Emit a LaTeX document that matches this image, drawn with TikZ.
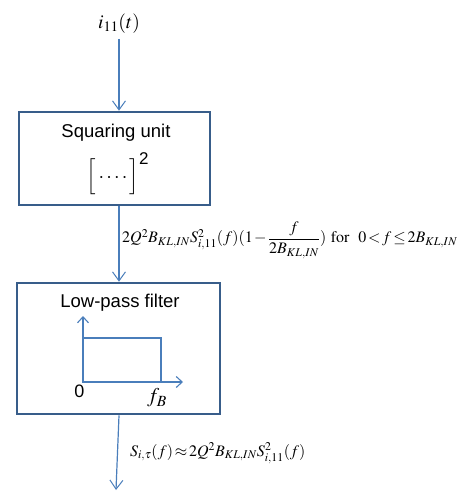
\documentclass[tikz,border=0pt]{standalone}
\usepackage{amsmath}
\usepackage{mathptmx}
\usepackage[no-math]{fontspec}
\setmainfont{Liberation Sans}
\usetikzlibrary{arrows.meta,positioning}
\definecolor{boxline}{RGB}{56,93,138}
\definecolor{flow}{RGB}{74,126,187}
\newcommand{\tightmath}{\thickmuskip=2mu\relax\medmuskip=1.5mu\relax}

\begin{document}
\begin{tikzpicture}[x=1pt, y=-1pt,
    block/.style={draw=boxline, line width=2.6pt, inner sep=0pt},
    flowline/.style={draw=flow, line width=1.2pt, -{Straight Barb[length=9pt, width=13pt, line width=1pt]}},
    axisline/.style={draw=flow, line width=1.1pt, -{Straight Barb[length=6pt, width=11pt, line width=1.1pt]}},
    caption/.style={font=\fontsize{18.5}{20}\selectfont, text=black},
    formula/.style={font=\fontsize{16}{18}\selectfont, anchor=west, inner sep=0pt}]
        \useasboundingbox (0,0) rectangle (473,494);
        \node[font=\fontsize{19.5}{24}\selectfont, inner sep=5pt] (in) at (119,24) {$i_{11}(t)$};
        \node[block, minimum width=191pt, minimum height=93pt] (sq) at (114.5,158.5) {};
        \node[block, minimum width=203pt, minimum height=131pt] (lp) at (118.5,348.5) {};
        \coordinate (out) at (116,490);
        \node[caption] (sqtext) at (116,133) {Squaring unit};
        \node[font=\fontsize{20}{22}\selectfont, inner sep=0pt] (sqpow) at (118,174)
          {$\left[\rule[-10pt]{0pt}{30pt}\,{\cdot}\,{\cdot}\,{\cdot}\,{\cdot}\,\right]^{\text{\fontsize{17}{17}\selectfont 2}}$};
        \node[caption] (lptext) at (120,303) {Low-pass filter};
        \coordinate (org) at (83,382);
        \draw[axisline] (org) -- (83,316);
        \draw[axisline] (org) -- (183,382);
        \draw[flow, line width=1.1pt] (83,338) rectangle (161,382);
        \node[font=\fontsize{18}{20}\selectfont] (zero) at (79.5,391) {0};
        \node[font=\fontsize{21}{22}\selectfont] (fb) at (157,398) {$f_B$};
        \draw[flowline] (in) -- (in |- sq.north);
        \draw[flowline] (in |- sq.south) -- (in |- lp.north);
        \draw[flowline] (in |- lp.south) -- (out);
        \node[formula] (sqout) at (122,240)
          {\tightmath$2Q^2B_{KL,IN}S^2_{i,11}(f)(1-\dfrac{f}{2B_{KL,IN}})\ \mathrm{for}\ \ 0<f\le 2B_{KL,IN}$};
        \node[formula] (lpout) at (130,453)
          {\tightmath$S_{i,\tau}(f)\approx 2Q^2B_{KL,IN}S^2_{i,11}(f)$};
      \end{tikzpicture}
\end{document}
